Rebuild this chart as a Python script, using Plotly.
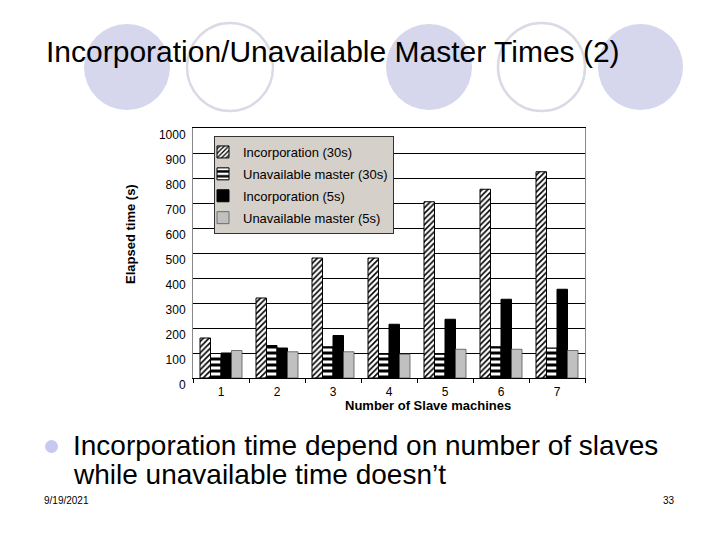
import plotly.graph_objects as go

# ---- data ----
machines = ["1", "2", "3", "4", "5", "6", "7"]
incorporation_30s = [160, 320, 480, 480, 705, 755, 825]
unavailable_30s = [80, 130, 125, 95, 95, 125, 120]
incorporation_5s = [100, 120, 170, 215, 235, 315, 355]
unavailable_5s = [110, 105, 105, 95, 115, 115, 110]
y_ticks = [0, 100, 200, 300, 400, 500, 600, 700, 800, 900, 1000]

title_text = "Incorporation/Unavailable Master Times (2)"
bullet_line1 = "Incorporation time depend on number of slaves"
bullet_line2 = "while unavailable time doesn\u2019t"
date_text = "9/19/2021"
page_text = "33"

FONT = "Liberation Sans, Arial, sans-serif"

# page offset of the figure inside the browser (body margin)
OFF = 8
# plot area in target-picture pixels
L, R, T, B = 193, 585, 128, 378
W, H = R - L, B - T


def px(x):
    return (x - L) / W


def py(y):
    return (B - y) / H


fig = go.Figure()

fig.add_trace(go.Bar(
    x=machines, y=incorporation_30s, name="Incorporation (30s)", legendgroup="a",
    marker=dict(color="white", line=dict(color="black", width=1),
                pattern=dict(shape="/", fgcolor="black", bgcolor="white",
                             size=4, solidity=0.4, fillmode="replace")),
))
fig.add_trace(go.Bar(
    x=machines, y=unavailable_30s, name="Unavailable master (30s)", legendgroup="b",
    marker=dict(color="white", line=dict(color="black", width=1),
                pattern=dict(shape="-", fgcolor="black", bgcolor="white",
                             size=6, solidity=0.5, fillmode="replace")),
))
fig.add_trace(go.Bar(
    x=machines, y=incorporation_5s, name="Incorporation (5s)", legendgroup="c",
    marker=dict(color="black", line=dict(color="black", width=1)),
))
fig.add_trace(go.Bar(
    x=machines, y=unavailable_5s, name="Unavailable master (5s)", legendgroup="d",
    marker=dict(color="#c0c0c0", line=dict(color="#555555", width=0.8)),
))

# decorative slide circles
shapes = []
for (x0, x1, filled) in [(84, 170, True), (187, 273, False), (386, 472, True),
                         (498, 585, False), (598, 683, True)]:
    if filled:
        shapes.append(dict(type="circle", xref="paper", yref="paper",
                           x0=px(x0), x1=px(x1), y0=py(110), y1=py(24),
                           fillcolor="#d6d6ec", line=dict(width=0), layer="below"))
    else:
        shapes.append(dict(type="circle", xref="paper", yref="paper",
                           x0=px(x0), x1=px(x1), y0=py(111), y1=py(23),
                           fillcolor="rgba(0,0,0,0)", line=dict(color="#dadae6", width=2.5),
                           layer="below"))
# bullet
shapes.append(dict(type="circle", xref="paper", yref="paper",
                   x0=px(45), x1=px(58), y0=py(453), y1=py(440),
                   fillcolor="#c8c8f2", line=dict(width=0)))

annotations = [
    dict(text=title_text, x=px(44), y=py(52), xref="paper", yref="paper",
         xanchor="left", yanchor="middle", showarrow=False,
         font=dict(family=FONT, size=30, color="black")),
    dict(text=bullet_line1, x=px(71), y=py(445), xref="paper", yref="paper",
         xanchor="left", yanchor="middle", showarrow=False,
         font=dict(family=FONT, size=28, color="black")),
    dict(text=bullet_line2, x=px(71), y=py(474), xref="paper", yref="paper",
         xanchor="left", yanchor="middle", showarrow=False,
         font=dict(family=FONT, size=28, color="black")),
    dict(text=date_text, x=px(42), y=py(500), xref="paper", yref="paper",
         xanchor="left", yanchor="middle", showarrow=False,
         font=dict(family=FONT, size=10, color="black")),
    dict(text=page_text, x=px(677), y=py(500), xref="paper", yref="paper",
         xanchor="right", yanchor="middle", showarrow=False,
         font=dict(family=FONT, size=10, color="black")),
    dict(text="<b>Elapsed time (s)</b>", x=px(130), y=py(234), xref="paper", yref="paper",
         xanchor="center", yanchor="middle", showarrow=False, textangle=-90,
         font=dict(family=FONT, size=13, color="black")),
    dict(text="<b>Number of Slave machines</b>", x=px(428), y=py(405), xref="paper", yref="paper",
         xanchor="center", yanchor="middle", showarrow=False,
         font=dict(family=FONT, size=13, color="black")),
]

fig.update_layout(
    width=720, height=540,
    margin=dict(l=L - OFF, r=720 - (R - OFF), t=T - OFF, b=540 - (B - OFF), autoexpand=False),
    paper_bgcolor="white", plot_bgcolor="white",
    barmode="group", bargap=0.25, bargroupgap=0,
    font=dict(family=FONT, size=12, color="black"),
    showlegend=True,
    legend=dict(x=px(214), y=py(136), xanchor="left", yanchor="top",
                bgcolor="#d5d0ca", bordercolor="#333333", borderwidth=1,
                font=dict(family=FONT, size=13, color="black"),
                traceorder="grouped", tracegroupgap=2, indentation=-12,
                entrywidth=176, entrywidthmode="pixels"),
    shapes=shapes,
    annotations=annotations,
)

fig.update_xaxes(
    type="category", showgrid=False, showline=True, linecolor="black", linewidth=1,
    mirror=True, ticks="outside", tickson="boundaries", ticklen=4, tickcolor="black",
    ticklabelstandoff=3,
    tickfont=dict(family=FONT, size=12, color="black"),
)
fig.update_yaxes(
    range=[0, 1000], tickvals=y_ticks, showgrid=True, gridcolor="black", gridwidth=1,
    showline=True, linecolor="#888888", linewidth=1, mirror=True, ticks="",
    zeroline=False, ticklabelshift=7, ticklabelstandoff=4,
    tickfont=dict(family=FONT, size=12, color="black"),
)

fig.write_html("out.html")
